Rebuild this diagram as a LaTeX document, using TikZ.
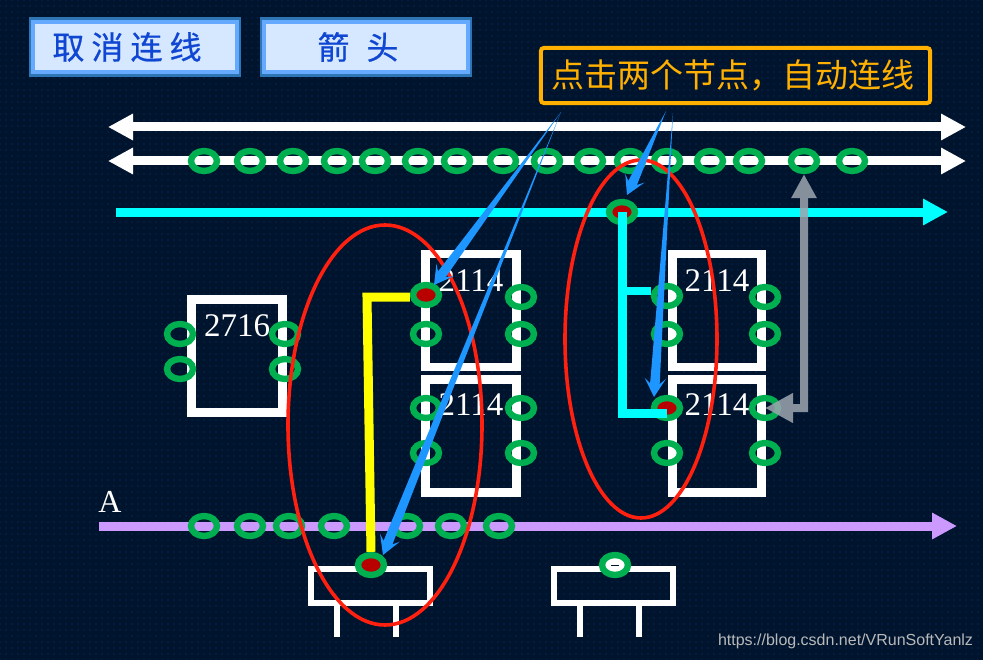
\documentclass[tikz,border=0pt]{standalone}
\usepackage{fontspec}
\usepackage{xcolor}
\setmainfont{Liberation Serif}
\newfontfamily\cjkfont{Noto Sans CJK SC}
\newfontfamily\btnfont[LetterSpace=22,FakeBold=0.7]{Noto Sans CJK SC}
\newfontfamily\btnwide[LetterSpace=53,FakeBold=0.7]{Noto Sans CJK SC}
\newfontfamily\markfont{Liberation Sans}
\usetikzlibrary{arrows.meta,shapes,calc,patterns.meta}
\definecolor{boardbg}{HTML}{00142E}
\definecolor{boarddot}{HTML}{0D3A70}
\definecolor{pingreen}{HTML}{00B050}
\definecolor{pinred}{HTML}{B80000}
\definecolor{clickblue}{HTML}{1E96FF}
\definecolor{noteamber}{HTML}{FFB000}
\definecolor{addrviolet}{HTML}{CC99FF}
\definecolor{databus}{HTML}{00FFFF}
\definecolor{wireyellow}{HTML}{FFFF00}
\definecolor{ringred}{HTML}{FF2010}
\definecolor{btnfill}{HTML}{D5E8FF}
\definecolor{btnedge}{HTML}{2E75B6}
\definecolor{btnlight}{HTML}{66AAFF}
\definecolor{btntext}{HTML}{0F46D2}
\definecolor{backgray}{HTML}{9EA6B0}
\tikzset{
pinring/.style={shape=ellipse,draw=pingreen,line width=4.8pt,minimum width=19.5pt,minimum height=15pt,inner sep=0pt},
pinhit/.style={pinring,fill=pinred},
chipbox/.style={draw=white,line width=6.4pt,inner sep=0pt,minimum width=67pt,minimum height=85pt},
chipname/.style={text=white,font=\fontsize{24.75}{26}\selectfont,inner sep=0pt},
tinybox/.style={draw=white,line width=4.5pt,inner sep=0pt,minimum width=89pt,minimum height=26pt},
btnbox/.style={fill=btnfill,draw=btnlight,line width=3pt,preaction={draw=btnedge,line width=6.5pt},inner sep=0pt,minimum width=153pt,minimum height=38pt,text=btntext},
busline/.style={line width=6.75pt},
}
\newcommand{\taperarrow}[2]{
\coordinate(neck)at($(#2)!10pt!(#1)$);
\coordinate(barb)at($(#2)!14pt!(#1)$);
\fill[clickblue](#1)--($(neck)!3.6pt!90:(#1)$)--($(barb)!8pt!90:(#1)$)--(#2)--($(barb)!8pt!-90:(#1)$)--($(neck)!3.6pt!-90:(#1)$)--cycle;
}
\begin{document}
\begin{tikzpicture}[x=0.75pt,y=-0.75pt]
\useasboundingbox(0,0)rectangle(983,660);
\fill[boardbg](0,0)rectangle(983,660);
\fill[pattern={Dots[distance=4.5pt,radius=0.4pt]},pattern color=boarddot](0,0)rectangle(983,660);
\node[btnbox,font=\btnfont\fontsize{24}{26}\selectfont](btncancel)at(135,47){取消连线\hspace*{12pt}};
\node[btnbox,font=\btnwide\fontsize{24}{26}\selectfont](btnarrow)at(366,47){\raisebox{1.5pt}{箭头}\hspace*{12pt}};
\node[draw=noteamber,line width=3pt,rounded corners=2.5pt,text=noteamber,inner sep=0pt,minimum width=292pt,minimum height=41.5pt,font=\cjkfont\fontsize{24.75}{26}\selectfont](clicknote)at(735.5,75.5){\raisebox{-2pt}{点击两个节点，自动连线\hspace*{4pt}}};
\coordinate(busal)at(108,127);\coordinate(busar)at(966,127);
\coordinate(busbl)at(108,161);\coordinate(busbr)at(966,161);
\coordinate(datal)at(116,212);\coordinate(datar)at(948,212);
\coordinate(addrl)at(99,526);\coordinate(addrr)at(957,526);
\draw[busline,white,{Triangle[length=18.75pt,width=18.75pt]}-{Triangle[length=18.75pt,width=18.75pt]}](busal)--(busar);
\draw[busline,white,{Triangle[length=18.75pt,width=18.75pt]}-{Triangle[length=18.75pt,width=18.75pt]}](busbl)--(busbr);
\draw[busline,databus,-{Triangle[length=18.75pt,width=18.75pt]}](datal)--(datar);
\draw[busline,addrviolet,-{Triangle[length=18.75pt,width=18.75pt]}](addrl)--(addrr);
\node[text=white,font=\fontsize{24}{26}\selectfont,inner sep=0pt](addrname)at(110,502){A};
\node[chipbox,minimum width=68.5pt](eprom)at(237,356){};
\node[chipbox,minimum width=68.5pt](ramul)at(471,310.5){};
\node[chipbox,minimum width=68.5pt](ramll)at(471,436){};
\node[chipbox](ramur)at(717,310.5){};
\node[chipbox](ramlr)at(717,436){};
\node[tinybox](boxa)at(370.5,586){};
\node[tinybox](boxb)at(613.5,586){};
\draw[line width=4.5pt,white]($(boxa.south)+(-33.5,0)$)--+(0,31) ($(boxa.south)+(25.5,0)$)--+(0,31)
($(boxb.south)+(-33.5,0)$)--+(0,31) ($(boxb.south)+(25.5,0)$)--+(0,31);
\foreach \x [count=\i] in {204,250,293,337,375,418,457,503,547,590,630,667,710,749,804,852}
\node[pinring](bus\i)at(\x,161){};
\foreach \x [count=\i] in {204,250,289,334,407,451,499}
\node[pinring](adr\i)at(\x,526){};
\node[pinring](ep1)at(180,334){};\node[pinring](ep2)at(180,369){};
\node[pinring](ep3)at(285,334){};\node[pinring](ep4)at(285,369){};
\node[pinhit](ul1)at(426,295){};\node[pinring](ul2)at(426,334){};
\node[pinring](ul3)at(521,297){};\node[pinring](ul4)at(521,334){};
\node[pinring](ll1)at(426,408){};\node[pinring](ll2)at(426,453){};
\node[pinring](ll3)at(521,408){};\node[pinring](ll4)at(521,453){};
\node[pinring](ur1)at(667,296){};\node[pinring](ur2)at(667,334){};
\node[pinring](ur3)at(765,297){};\node[pinring](ur4)at(765,334){};
\node[pinhit](lr1)at(667,408){};\node[pinring](lr2)at(667,453){};
\node[pinring](lr3)at(765,408){};\node[pinring](lr4)at(765,453){};
\node[pinhit](datahit)at(622,212){};
\node[pinhit](boxahit)at(371,565){};
\node[pinring,fill=white](boxbpin)at(615,565){};
\draw[boardbg,line width=0.5pt]($(boxbpin.center)+(-4,0)$)--($(boxbpin.center)+(4,0)$);
\node[chipname](epromname)at(237,326){2716};
\node[chipname](ramulname)at(471,281){2114};
\node[chipname](ramllname)at(471,405){2114};
\node[chipname](ramurname)at(717,281){2114};
\node[chipname](ramlrname)at(717,405){2114};
\coordinate(yellowknee)at(367,297);
\draw[line width=6.75pt,wireyellow,line join=miter](yellowknee-|ul1.west)--(yellowknee)--(boxahit.north);
\coordinate(cyanfoot)at(622,413);\coordinate(cyanmid)at(622,291);
\draw[line width=6.75pt,databus](datahit.center)--(cyanfoot)--(cyanfoot-|lr1.center);
\draw[line width=6pt,databus](cyanmid)--(cyanmid-|ur1.west);
\draw[ringred,line width=2.7pt](385,425)ellipse[x radius=97,y radius=200];
\draw[ringred,line width=2.7pt](641,339)ellipse[x radius=76,y radius=179];
\coordinate(startl)at(561,112);\coordinate(startm)at(666,111);\coordinate(startr)at(673,113);
\coordinate(tipul)at(434,285);\coordinate(tipbox)at(383,555);\coordinate(tipdata)at(627,195);\coordinate(tiplr)at(654,397);
\taperarrow{startl}{tipul}
\taperarrow{startl}{tipbox}
\taperarrow{startm}{tipdata}
\taperarrow{startr}{tiplr}
\begin{scope}[transparency group,opacity=0.85]
\draw[backgray,line width=6pt,line join=miter,{Triangle[length=18pt,width=18pt]}-{Triangle[length=21pt,width=21pt]}](bus15.south)|-(lr3.center);
\end{scope}
\node[text=gray!55!white,inner sep=0pt,font=\markfont\fontsize{12}{14}\selectfont](csdnmark)at(845.5,641){https://blog.csdn.net/VRunSoftYanlz};
\end{tikzpicture}
\end{document}
